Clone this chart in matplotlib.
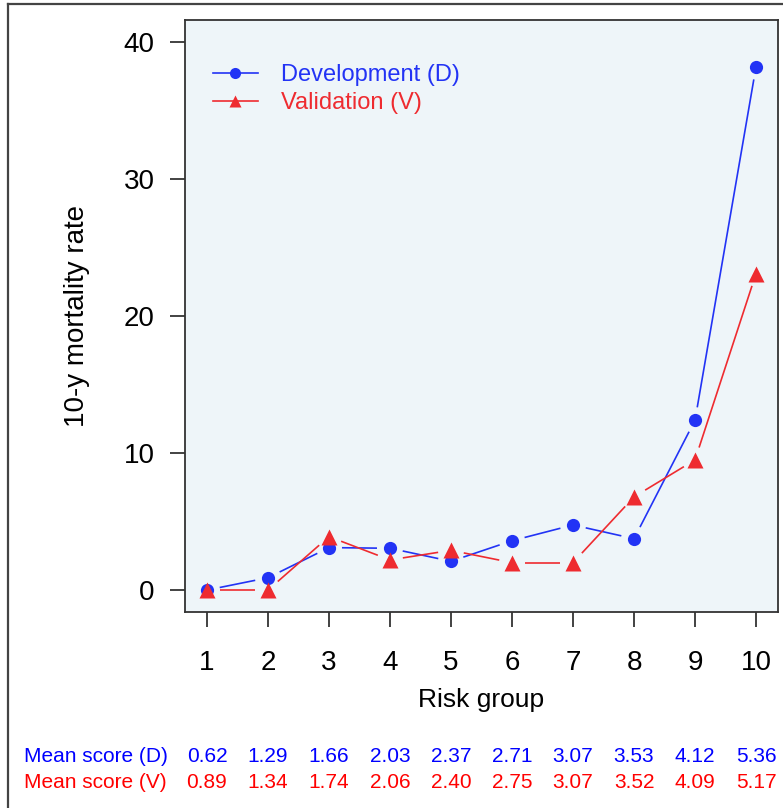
import matplotlib.pyplot as plt
import matplotlib.transforms as mtransforms
from matplotlib.lines import Line2D
import numpy as np

plt.rcParams['font.family'] = ['Liberation Sans', 'DejaVu Sans']

# data
groups = [1, 2, 3, 4, 5, 6, 7, 8, 9, 10]
rate_dev = [0.0, 0.9, 3.1, 3.05, 2.1, 3.6, 4.75, 3.75, 12.4, 38.2]
rate_val = [0.0, 0.0, 3.9, 2.2, 2.9, 2.0, 2.0, 6.8, 9.5, 23.1]
mean_dev = ['0.62', '1.29', '1.66', '2.03', '2.37', '2.71', '3.07', '3.53', '4.12', '5.36']
mean_val = ['0.89', '1.34', '1.74', '2.06', '2.40', '2.75', '3.07', '3.52', '4.09', '5.17']

blue = '#2233F5'
red = '#EE2B30'

W, H = 783, 808
fig = plt.figure(figsize=(W / 100, H / 100), dpi=100)
ax = fig.add_axes([185 / W, 1 - 612 / H, (778 - 185) / W, (612 - 20) / H])
ax.set_facecolor('#EEF5F9')
ax.set_xlim(0.64, 10.36)
ax.set_ylim(-1.6, 41.6)


def gapped_line(x, y, color, gap=13):
    # R type="b": segments stop short of each point
    pts = ax.transData.transform(np.column_stack([x, y]))
    inv = ax.transData.inverted()
    for p0, p1 in zip(pts[:-1], pts[1:]):
        d = p1 - p0
        L = np.hypot(*d)
        if L <= 2 * gap:
            continue
        u = d / L
        seg = inv.transform(np.array([p0 + u * gap, p1 - u * gap]))
        ax.plot(seg[:, 0], seg[:, 1], color=color, lw=1.2, solid_capstyle='butt')


gapped_line(groups, rate_dev, blue)
gapped_line(groups, rate_val, red)
ax.plot(groups, rate_dev, 'o', color=blue, ms=9.5, mec='none', zorder=3)
ax.plot(groups, rate_val, '^', color=red, ms=11, mec='none', zorder=3)

handles = [Line2D([], [], color=blue, lw=1.2, marker='o', ms=8, mec='none'),
           Line2D([], [], color=red, lw=1.2, marker='^', ms=9, mec='none')]
ax.legend(handles, ['Development (D)', 'Validation (V)'], loc='upper left',
          bbox_to_anchor=(0.027, 0.946), frameon=False, fontsize=17,
          handlelength=1.9, handletextpad=1.0, labelspacing=0.28,
          borderpad=0, labelcolor=[blue, red])

ax.set_xticks(groups)
ax.set_yticks([0, 10, 20, 30, 40])
ax.tick_params(axis='both', direction='out', length=11, width=1.2, colors='#222222',
               labelsize=20, labelcolor='black')
ax.tick_params(axis='x', pad=16)
ax.tick_params(axis='y', pad=11)
for s in ax.spines.values():
    s.set_color('#333333')
    s.set_linewidth(1.3)

ax.set_xlabel('Risk group', fontsize=19, labelpad=9)
ax.set_ylabel('10-y mortality rate', fontsize=20, labelpad=24)

# mean score rows under the axis
trans = mtransforms.blended_transform_factory(ax.transData, fig.transFigure)
fig.text(24 / W, 1 - 762 / H, 'Mean score (D)', color='blue', fontsize=15, va='baseline')
fig.text(24 / W, 1 - 788 / H, 'Mean score (V)', color='red', fontsize=15, va='baseline')
for g, d, v in zip(groups, mean_dev, mean_val):
    ax.text(g, 1 - 762 / H, d, transform=trans, color='blue', fontsize=15,
            ha='center', va='baseline', clip_on=False)
    ax.text(g, 1 - 788 / H, v, transform=trans, color='red', fontsize=15,
            ha='center', va='baseline', clip_on=False)

# outer frame (left and top edges visible)
fig.add_artist(Line2D([8 / W, 8 / W], [0, 1 - 4 / H], color='#444444', lw=1.6))
fig.add_artist(Line2D([8 / W, 1], [1 - 4 / H, 1 - 4 / H], color='#444444', lw=1.6))

fig.savefig('out.png', dpi=100)
